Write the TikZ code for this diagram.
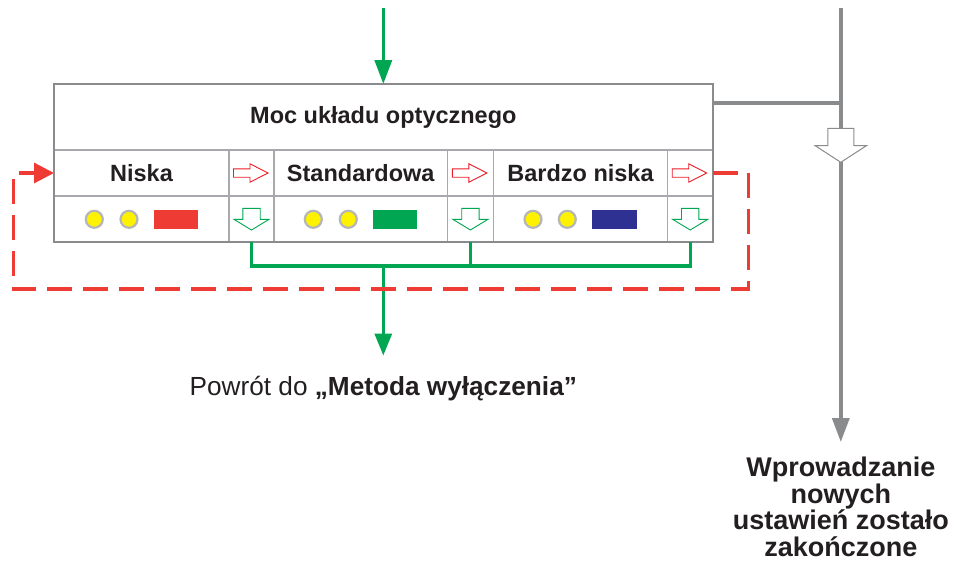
\documentclass[tikz,border=0pt]{standalone}
\usepackage{fontspec}
\setmainfont{Liberation Sans}
\usetikzlibrary{arrows.meta}
\definecolor{tgreen}{HTML}{00A651}
\definecolor{tred}{HTML}{EE3B33}
\definecolor{hred}{HTML}{ED1C24}
\definecolor{tblue}{HTML}{2E3192}
\definecolor{lampy}{HTML}{FFF200}
\definecolor{lampgray}{HTML}{B5B6B8}
\definecolor{outgray}{HTML}{8A8B8D}
\definecolor{ingray}{HTML}{A7A9AC}
\definecolor{txt}{HTML}{231F20}
\tikzset{
  rarr/.pic={\draw[draw=hred, line width=0.9pt, fill=white]
     (-18,-4.2) -- (-1.5,-4.2) -- (-1.5,-9.2) -- (16.5,0) -- (-1.5,9.2) -- (-1.5,4.2) -- (-18,4.2) -- cycle;},
  darr/.pic={\draw[draw=tgreen, line width=0.9pt, fill=white]
     (-8.7,-10.7) -- (8.7,-10.7) -- (8.7,0.3) -- (17.6,0.3) -- (0,11) -- (-17.6,0.3) -- (-8.7,0.3) -- cycle;},
}
\begin{document}
\begin{tikzpicture}[x=1pt,y=-1pt,
  cell/.style={draw=ingray, line width=1.3pt, minimum height=46pt, inner sep=0pt, outer sep=0pt,
     font=\fontsize{23.5}{26}\selectfont\bfseries, text=txt},
  lamp/.style={circle, fill=lampy, draw=lampgray, line width=2.2pt, minimum size=17pt, inner sep=0pt},
  lampbar/.style={rectangle, minimum width=44pt, minimum height=19pt, inner sep=0pt},
  outer/.style={draw=outgray, line width=2.2pt},
  gline/.style={draw=tgreen, line width=3.3pt},
  grayline/.style={draw=outgray, line width=3.5pt},
  reddash/.style={draw=tred, line width=3.3pt, dash pattern=on 25pt off 11pt},
]
\useasboundingbox (0,0) rectangle (954,563);

% header
\node[cell, minimum width=658.7pt, minimum height=66pt] (hdr) at (383.35,117) {Moc układu optycznego};
% row 2
\node[cell, minimum width=175pt] (n1) at (141.5,173) {Niska};
\node[cell, minimum width=45pt] (r1) at (251.5,173) {};
\node[cell, minimum width=173.5pt] (n2) at (360.75,173) {Standardowa};
\node[cell, minimum width=45.8pt] (r2) at (470.4,173) {};
\node[cell, minimum width=174.4pt] (n3) at (580.5,173) {Bardzo niska};
\node[cell, minimum width=45pt] (r3) at (690.2,173) {};
% row 3
\node[cell, minimum width=175pt] (l1) at (141.5,219) {};
\node[cell, minimum width=45pt] (d1) at (251.5,219) {};
\node[cell, minimum width=173.5pt] (l2) at (360.75,219) {};
\node[cell, minimum width=45.8pt] (d2) at (470.4,219) {};
\node[cell, minimum width=174.4pt] (l3) at (580.5,219) {};
\node[cell, minimum width=45pt] (d3) at (690.2,219) {};
\draw[outer] (hdr.north west) rectangle (d3.south east);

% small arrows
\pic at (r1.center) {rarr};
\pic at (r2.center) {rarr};
\pic at (r3.center) {rarr};
\pic at (d1.center) {darr};
\pic at (d2.center) {darr};
\pic at (d3.center) {darr};

% lamps
\node[lamp] (y11) at (94.3,219.3) {};
\node[lamp] (y12) at (129,219.3) {};
\node[lampbar, fill=tred] (b1) at (176,219.5) {};
\node[lamp] (y21) at (313.3,219.3) {};
\node[lamp] (y22) at (348.3,219.3) {};
\node[lampbar, fill=tgreen] (b2) at (395.3,219.5) {};
\node[lamp] (y31) at (533,219.3) {};
\node[lamp] (y32) at (567.3,219.3) {};
\node[lampbar, fill=tblue, minimum width=44.4pt] (b3) at (614.5,219.5) {};

% texts
\node[font=\fontsize{26.2}{28}\selectfont, text=txt, anchor=base, inner sep=0pt] (ret) at (383.3,395)
  {Powrót do \textbf{„Metoda wyłączenia”}};
\node[font=\fontsize{27}{26.5}\selectfont\bfseries, text=txt, align=center, anchor=north, inner sep=0pt] (done)
  at (840.8,457) {Wprowadzanie\\nowych\\ustawień zostało\\zakończone};

% top green input
\coordinate (gin) at (383.3,8);
\draw[gline, line width=3.6pt, -{Triangle[length=24pt,width=17pt]}] (gin) -- (hdr.north -| gin);

% green bus
\coordinate (bus) at (383.3,266);
\draw[gline] (d1.south) |- (bus) -| (d3.south);
\draw[gline] (d2.south) -- (d2.south |- bus);
\draw[gline, -{Triangle[length=22pt,width=17pt]}] (bus) -- ([yshift=20pt]ret.north);

% red dashed loop
\coordinate (botL) at (13.3,289);
\draw[reddash, -{Triangle[length=20pt,width=20pt]}] (r3.east) -- ++(35.6,0) |- (botL) |- (n1.west);

% gray path
\coordinate (vtop) at (840.8,8);
\coordinate (vj) at (840.8,103);
\draw[grayline] (hdr.east |- vj) -- (vj);
\draw[grayline, -{Triangle[length=24pt,width=17pt]}] (vtop) -- ([yshift=15pt]done.north);
\draw[draw=outgray, line width=1pt, fill=white]
  (827.8,128.3) -- (853.8,128.3) -- (853.8,145.7) -- (866.4,145.7) -- (840.8,162.3)
  -- (815.2,145.7) -- (827.8,145.7) -- cycle;
\end{tikzpicture}
\end{document}
